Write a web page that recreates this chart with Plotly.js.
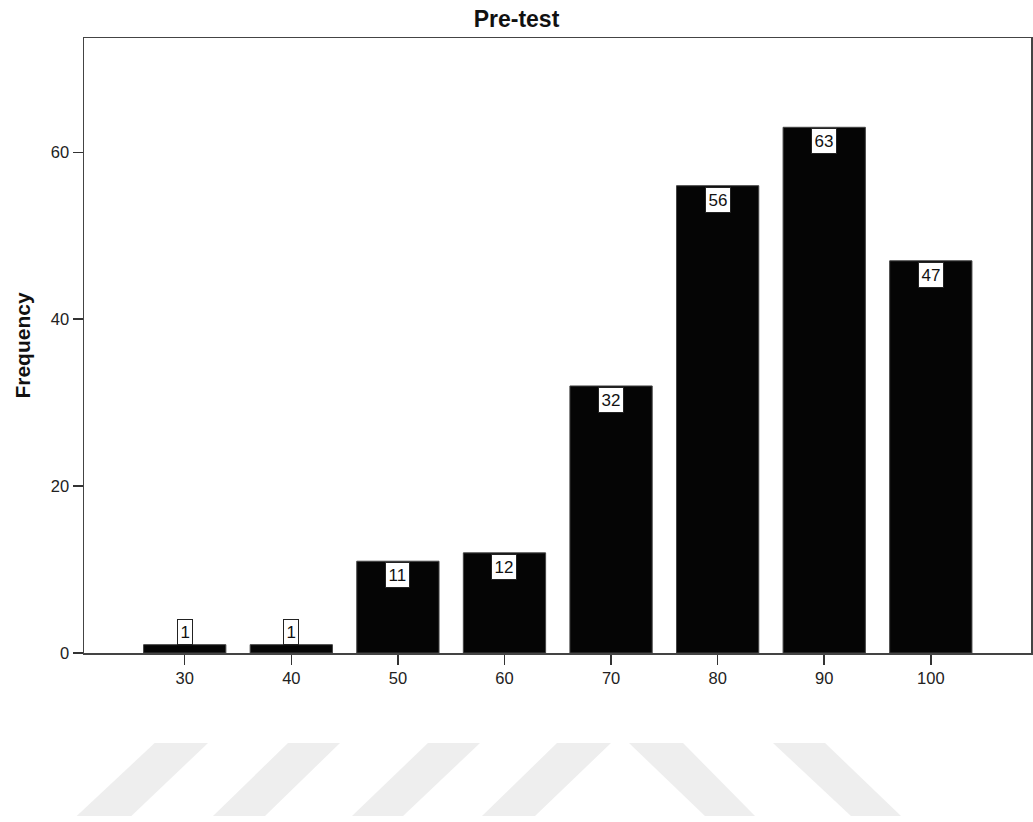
<!DOCTYPE html>
<html>
<head>
<meta charset="utf-8">
<script src="https://cdn.plot.ly/plotly-3.0.1.min.js"></script>
<style>html,body{margin:0;padding:0;background:#fff;}#chart{width:1033px;height:822px;}</style>
</head>
<body>
<div id="chart"></div>
<script>
// ---- data ----
const scores = [30, 40, 50, 60, 70, 80, 90, 100];
const frequencies = [1, 1, 11, 12, 32, 56, 63, 47];
const tickLabels = ['30', '40', '50', '60', '70', '80', '90', '100'];
const yTicks = [0, 20, 40, 60];
const chartTitle = 'Pre-test';
const yTitle = 'Frequency';

// ---- layout geometry ----
const W = 1033, H = 822;
const M = {l: 84, r: 2, t: 38, b: 169};
const plotW = W - M.l - M.r, plotH = H - M.t - M.b;
const px2x = px => (px - M.l) / plotW;
const px2y = py => (H - M.b - py) / plotH;

// watermark stripes (decoration)
const stripes = [
  [[76.7, 131.3], [154.7, 208]],
  [[213, 265], [288, 340]],
  [[352, 403], [428, 480]],
  [[482, 535], [557, 611]],
  [[705, 755], [629, 683]],
  [[851, 901], [773, 825]]
];
const yTop = 743, yBot = 816;
const shapes = stripes.map(s => {
  const [b, t] = s;
  return {
    type: 'path', xref: 'paper', yref: 'paper', layer: 'below',
    path: `M ${px2x(b[0])} ${px2y(yBot)} L ${px2x(b[1])} ${px2y(yBot)} L ${px2x(t[1])} ${px2y(yTop)} L ${px2x(t[0])} ${px2y(yTop)} Z`,
    fillcolor: '#eeeeee', line: {width: 0}
  };
});

const annotations = scores.map((x, i) => {
  const v = frequencies[i];
  const inside = v >= 5;
  return {
    x: x, y: v, xref: 'x', yref: 'y',
    text: String(v), showarrow: false,
    yanchor: inside ? 'top' : 'bottom',
    yshift: inside ? -1 : 0,
    font: {family: 'Arial, Liberation Sans, sans-serif', size: 17, color: '#111'},
    bgcolor: '#ffffff', bordercolor: '#222', borderwidth: 1, borderpad: 2.5
  };
});

const trace = {
  type: 'bar', x: scores, y: frequencies, width: 7.72,
  marker: {color: '#050505', line: {color: '#444', width: 1}},
  hoverinfo: 'x+y'
};

const layout = {
  width: W, height: H,
  margin: M,
  paper_bgcolor: '#ffffff', plot_bgcolor: '#ffffff',
  showlegend: false,
  font: {family: 'Arial, Liberation Sans, sans-serif', color: '#222'},
  title: {
    text: chartTitle, xref: 'container', x: 0.5, xanchor: 'center',
    yref: 'container', y: 1 - 19 / H, yanchor: 'middle',
    font: {family: 'Arial, Liberation Sans, sans-serif', size: 23, weight: 'bold', color: '#111'}
  },
  xaxis: {
    range: [20.55, 109.4], tickmode: 'array', tickvals: scores, ticktext: tickLabels,
    ticks: 'outside', ticklen: 10, tickwidth: 1.5, tickcolor: '#333',
    showline: true, linecolor: '#444', linewidth: 1.5, mirror: true,
    showgrid: false, zeroline: false,
    tickfont: {size: 16.5, color: '#222'}
  },
  yaxis: {
    range: [0, 73.7], tickmode: 'array', tickvals: yTicks,
    ticks: 'outside', ticklen: 10, tickwidth: 1.5, tickcolor: '#333',
    showline: true, linecolor: '#444', linewidth: 1.5, mirror: true,
    showgrid: false, zeroline: false,
    tickfont: {size: 16.5, color: '#222'},
    title: {text: yTitle, standoff: 14, font: {size: 21, weight: 'bold', color: '#111'}}
  },
  shapes: shapes,
  annotations: annotations,
  bargap: 0
};

Plotly.newPlot('chart', [trace], layout, {displayModeBar: false, staticPlot: true});
</script>
</body>
</html>
